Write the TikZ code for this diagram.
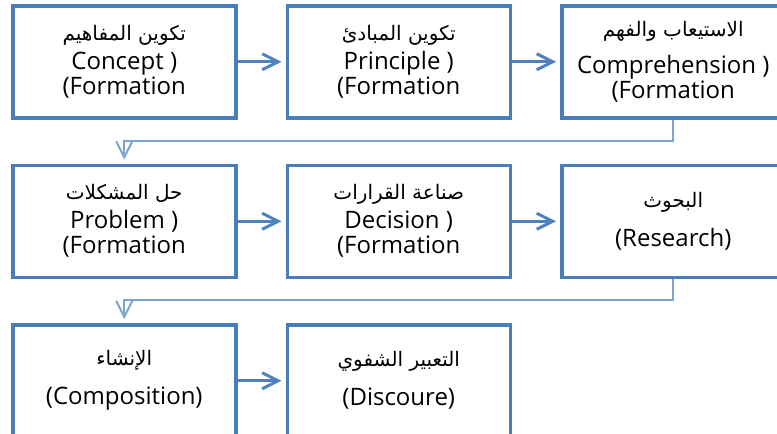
\documentclass[tikz,border=0pt]{standalone}
\usepackage{fontspec}
\setmainfont{Open Sans}
\newfontfamily\arabicfont[Script=Arabic]{DejaVu Sans}
\TeXXeTstate=1
\usetikzlibrary{positioning, arrows.meta}
\definecolor{boxblue}{RGB}{74,126,187}
\definecolor{arrowblue}{RGB}{79,129,189}
\definecolor{linkblue}{RGB}{125,163,211}
\newcommand{\arabtext}[1]{{\arabicfont\fontsize{10}{12}\selectfont\beginR #1\endR}}
\tikzset{
    stage/.style={rectangle, draw=boxblue, fill=white, line width=1.75pt, minimum width=111.5pt, minimum height=56pt, inner sep=2pt, align=center, font=\fontsize{12}{12.5}\selectfont},
    next-line/.style={-{Straight Barb[length=8pt, width=8pt]}, arrowblue, line width=1.5pt, shorten >=2pt},
    wrap-line/.style={-{Straight Barb[length=8pt, width=8pt]}, linkblue, line width=1pt, shorten >=2pt}
}

\begin{document}
\begin{tikzpicture}[x=0.5pt, y=-0.5pt, node distance=22pt and 24pt]
		% Khung hinh (right column and last row are cut by the frame)
		\fill[white] (0,0) rectangle (777,434);
		\useasboundingbox (0,0) rectangle (777,434);
		\clip (0,0) rectangle (777,434);
		
		% Hang 1
		\node (concept) [stage, anchor=north west] at (11,4) {\arabtext{تكوين المفاهيم}\\[2pt] Concept )\\ (Formation};
		\node (principle) [stage, right=of concept] {\arabtext{تكوين المبادئ}\\[2pt] Principle )\\ (Formation};
		\node (comprehension) [stage, right=of principle] {\arabtext{الاستيعاب والفهم}\\[6pt] Comprehension )\\ (Formation};
		
		% Hang 2
		\node (problem) [stage, below=of concept] {\arabtext{حل المشكلات}\\[2pt] Problem )\\ (Formation};
		\node (decision) [stage, right=of problem] {\arabtext{صناعة القرارات}\\[2pt] Decision )\\ (Formation};
		\node (research) [stage, right=of decision] {\arabtext{البحوث}\\[7pt] (Research)};
		
		% Hang 3
		\node (composition) [stage, below=of problem] {\arabtext{الإنشاء}\\[7pt] (Composition)};
		\node (discourse) [stage, right=of composition] {\arabtext{التعبير الشفوي}\\[7pt] (Discoure)};
		
		% Mui ten ngang
		\draw [next-line] (concept.east) -- (principle.west);
		\draw [next-line] (principle.east) -- (comprehension.west);
		\draw [next-line] (problem.east) -- (decision.west);
		\draw [next-line] (decision.east) -- (research.west);
		\draw [next-line] (composition.east) -- (discourse.west);
		
		% Xuong hang
		\draw [wrap-line] (comprehension.south) -- ++(0,-10.5pt) -| (problem.north);
		\draw [wrap-line] (research.south) -- ++(0,-10.5pt) -| (composition.north);
		
	\end{tikzpicture}
\end{document}
